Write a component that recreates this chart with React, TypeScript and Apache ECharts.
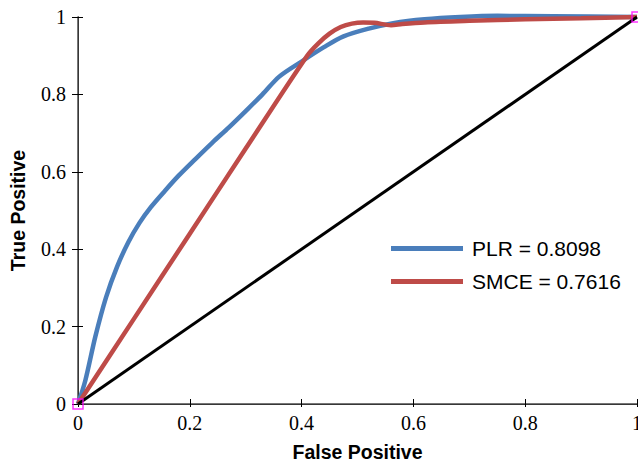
import React, { useEffect, useRef } from "react";
import * as echarts from "echarts";

const xTicks = [0, 0.2, 0.4, 0.6, 0.8, 1];
const yTicks = [0, 0.2, 0.4, 0.6, 0.8, 1];

const plrName = "PLR = 0.8098";
const smceName = "SMCE = 0.7616";
const xTitle = "False Positive";
const yTitle = "True Positive";

const plrPoints: [number, number][] = [
  [0, 0], [0.013, 0.06], [0.031, 0.174], [0.05, 0.275], [0.07, 0.355],
  [0.09, 0.418], [0.11, 0.468], [0.13, 0.508], [0.155, 0.55], [0.18, 0.59],
  [0.21, 0.633], [0.24, 0.675], [0.27, 0.715], [0.3, 0.757], [0.33, 0.8],
  [0.36, 0.846], [0.4, 0.885], [0.44, 0.922], [0.475, 0.95], [0.52, 0.97],
  [0.564, 0.984], [0.62, 0.994], [0.684, 1.0], [0.75, 1.003], [0.85, 1.002],
  [1, 1],
];

const smcePoints: [number, number][] = [
  [0, 0], [0.1, 0.22], [0.2, 0.44], [0.3, 0.66], [0.41, 0.9], [0.43, 0.932],
  [0.45, 0.957], [0.47, 0.974], [0.49, 0.983], [0.51, 0.986], [0.53, 0.985],
  [0.56, 0.979], [0.58, 0.982], [0.62, 0.986], [0.7, 0.99], [0.8, 0.994],
  [0.9, 0.997], [1, 1],
];

const chancePoints: [number, number][] = [[0, 0], [1, 1]];
const markerPoints: [number, number][] = [[0, 0], [1, 1]];

export default function App() {
  const ref = useRef<HTMLDivElement>(null);
  useEffect(() => {
    if (!ref.current) return;
    const chart = echarts.init(ref.current, null, { renderer: "svg" });
    const serif = "Times New Roman, Liberation Serif, DejaVu Serif, serif";
    const sans = "Liberation Sans";
    const labelStyle = {
      fontFamily: serif,
      fontSize: 20,
      fontStyle: "normal",
      fontWeight: "normal",
      color: "#000",
    };
    chart.setOption({
      animation: false,
      backgroundColor: "#ffffff",
      textStyle: { fontFamily: serif },
      grid: { left: 78, right: 1, top: 17, bottom: 59, outerBoundsMode: "none", containLabel: false },
      legend: {
        orient: "vertical",
        left: 386,
        top: 233,
        itemWidth: 72,
        itemHeight: 5,
        itemGap: 12,
        icon: "rect",
        data: [plrName, smceName],
        textStyle: {
          fontFamily: sans,
          fontSize: 21,
          color: "#000",
          lineHeight: 21,
          padding: [0, 0, 0, 4],
        },
      },
      xAxis: [
        {
          type: "value",
          position: "bottom",
          min: 0,
          max: 1,
          interval: 0.2,
          name: xTitle,
          nameLocation: "middle",
          nameGap: 38,
          nameTextStyle: { fontFamily: sans, fontSize: 19.5, fontWeight: "bold", color: "#000" },
          axisLine: { show: true, lineStyle: { color: "#000", width: 1 } },
          axisTick: { show: true, inside: false, length: 3, lineStyle: { color: "#000" } },
          axisLabel: {
            ...labelStyle,
            margin: 9,
            formatter: (v: number) => (xTicks.includes(v) ? String(v) : ""),
          },
          splitLine: { show: false },
        },
        {
          type: "value",
          position: "bottom",
          min: 0,
          max: 1,
          interval: 0.2,
          axisLine: { show: false },
          axisTick: { show: true, inside: true, length: 5, lineStyle: { color: "#000" } },
          axisLabel: { show: false },
          splitLine: { show: false },
        },
        {
          type: "value",
          position: "top",
          min: 0,
          max: 1,
          axisLine: { show: true, lineStyle: { color: "#4a4a4a", width: 1.5 } },
          axisTick: { show: false },
          axisLabel: { show: false },
          splitLine: { show: false },
        },
      ],
      yAxis: [
        {
          type: "value",
          position: "left",
          min: 0,
          max: 1,
          interval: 0.2,
          name: yTitle,
          nameLocation: "middle",
          nameGap: 50,
          nameTextStyle: { fontFamily: sans, fontSize: 19.5, fontWeight: "bold", color: "#000" },
          axisLine: { show: true, lineStyle: { color: "#000", width: 1 } },
          axisTick: { show: true, inside: false, length: 6, lineStyle: { color: "#000" } },
          axisLabel: {
            ...labelStyle,
            margin: 12,
            formatter: (v: number) => (yTicks.includes(v) ? String(v) : ""),
          },
          splitLine: { show: false },
        },
        {
          type: "value",
          position: "left",
          min: 0,
          max: 1,
          interval: 0.2,
          axisLine: { show: false },
          axisTick: { show: true, inside: true, length: 5, lineStyle: { color: "#000" } },
          axisLabel: { show: false },
          splitLine: { show: false },
        },
        {
          type: "value",
          position: "right",
          min: 0,
          max: 1,
          axisLine: { show: true, lineStyle: { color: "#4a4a4a", width: 1.5 } },
          axisTick: { show: false },
          axisLabel: { show: false },
          splitLine: { show: false },
        },
      ],
      series: [
        {
          name: plrName,
          type: "line",
          data: plrPoints,
          smooth: 0.3,
          symbol: "none",
          clip: false,
          color: "#4a7ebb",
          lineStyle: { color: "#4a7ebb", width: 4.5 },
          itemStyle: {
            color: "#4a7ebb",
            shadowBlur: 3,
            shadowColor: "rgba(0,0,0,0.35)",
            shadowOffsetY: 2,
          },
        },
        {
          name: smceName,
          type: "line",
          data: smcePoints,
          smooth: 0.3,
          symbol: "none",
          clip: false,
          color: "#be4b48",
          lineStyle: { color: "#be4b48", width: 4.5 },
          itemStyle: {
            color: "#be4b48",
            shadowBlur: 3,
            shadowColor: "rgba(0,0,0,0.35)",
            shadowOffsetY: 2,
          },
        },
        {
          name: "chance",
          type: "line",
          data: chancePoints,
          symbol: "none",
          clip: false,
          lineStyle: { color: "#000", width: 3 },
        },
        {
          name: "markers",
          type: "scatter",
          data: markerPoints,
          symbol: "rect",
          symbolSize: 10,
          clip: false,
          itemStyle: { color: "rgba(0,0,0,0)", borderColor: "#ff00ff", borderWidth: 1.5 },
          z: 5,
        },
      ],
    });
    return () => chart.dispose();
  }, []);
  return (
    <div
      ref={ref}
      style={{ position: "fixed", left: 0, top: 0, width: 638, height: 463, background: "#fff" }}
    />
  );
}
